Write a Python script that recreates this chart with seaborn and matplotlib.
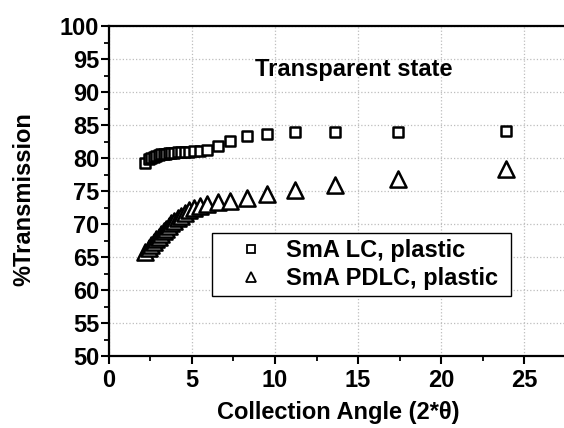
"""
Transmission vs collection angle, transparent state (SmA LC / SmA PDLC on plastic)
"""

import numpy as np
import pandas as pd
import matplotlib
matplotlib.use('Agg')
import matplotlib.pyplot as plt
from matplotlib.ticker import MultipleLocator
from matplotlib.lines import Line2D
import seaborn as sns

# Data
angle = [2.2, 2.4, 2.55, 2.7, 2.85, 3.0, 3.15, 3.3, 3.45, 3.6, 3.75, 3.95,
         4.15, 4.35, 4.6, 4.85, 5.15, 5.5, 5.9, 6.6, 7.3, 8.3, 9.5, 11.2,
         13.6, 17.4, 23.9]
lc_trans = [79.3, 79.8, 80.0, 80.2, 80.35, 80.45, 80.55, 80.6, 80.65, 80.7,
            80.75, 80.8, 80.85, 80.9, 80.95, 81.0, 81.05, 81.1, 81.2, 81.8,
            82.6, 83.3, 83.7, 83.9, 84.0, 84.0, 84.1]
pdlc_trans = [65.8, 66.4, 66.9, 67.3, 67.7, 68.1, 68.5, 68.9, 69.3, 69.7,
              70.1, 70.5, 70.9, 71.3, 71.7, 72.1, 72.4, 72.7, 73.0, 73.3,
              73.5, 73.9, 74.5, 75.1, 76.0, 76.9, 78.3]
series_labels = ['SmA LC, plastic', 'SmA PDLC, plastic']
x_ticks = [0, 5, 10, 15, 20, 25]
y_ticks = [50, 55, 60, 65, 70, 75, 80, 85, 90, 95, 100]

sns.set_style('white')
plt.rcParams['font.family'] = ['Liberation Sans', 'DejaVu Sans']
plt.rcParams['font.weight'] = 'bold'
plt.rcParams['font.size'] = 17
plt.rcParams['text.color'] = 'black'
plt.rcParams['axes.labelcolor'] = 'black'
plt.rcParams['xtick.color'] = 'black'
plt.rcParams['ytick.color'] = 'black'

df = pd.DataFrame({'angle': angle, 'lc': lc_trans, 'pdlc': pdlc_trans})

fig = plt.figure(figsize=(5.64, 4.28), dpi=100)
ax = fig.add_axes([0.193, 0.168, 0.81, 0.771])

sns.scatterplot(data=df, x='angle', y='lc', marker='s', s=62,
                color='white', edgecolor='black', linewidth=1.8, ax=ax,
                zorder=3)
sns.scatterplot(data=df, x='angle', y='pdlc', marker='^', s=135,
                color='white', edgecolor='black', linewidth=1.8, ax=ax,
                zorder=3)

ax.set_xlim(0, 27.5)
ax.set_ylim(50, 100)
ax.set_xticks(x_ticks)
ax.set_yticks(y_ticks)
ax.xaxis.set_minor_locator(MultipleLocator(2.5))
ax.yaxis.set_minor_locator(MultipleLocator(2.5))
ax.tick_params(which='major', direction='out', length=6, width=1.5,
               color='black', labelcolor='black', labelsize=17)
ax.tick_params(which='minor', direction='out', length=3.5, width=1.3,
               color='black')
ax.tick_params(axis='x', which='major', pad=3)
ax.tick_params(axis='y', which='major', pad=1)
ax.tick_params(left=True, bottom=True, which='both')
for lab in ax.get_xticklabels() + ax.get_yticklabels():
    lab.set_fontweight('bold')

ax.grid(True, which='major', linestyle=':', color='#bdbdbd', linewidth=0.9)
ax.set_axisbelow(True)

for side in ['left', 'bottom', 'top', 'right']:
    ax.spines[side].set_visible(True)
    ax.spines[side].set_color('black')
    ax.spines[side].set_linewidth(1.6)

ax.set_xlabel('Collection Angle (2*θ)', fontsize=17, fontweight='bold',
              color='black')
ax.set_ylabel('%Transmission', fontsize=17, fontweight='bold', color='black')
ax.xaxis.set_label_coords(0.502, -0.136)
ax.yaxis.set_label_coords(-0.16, 0.476)

ax.text(0.537, 0.848, 'Transparent state', transform=ax.transAxes,
        ha='center', va='baseline', fontsize=17, fontweight='bold',
        color='black')

handles = [
    Line2D([], [], linestyle='none', marker='s', markersize=5.5,
           markerfacecolor='white', markeredgecolor='black',
           markeredgewidth=1.3),
    Line2D([], [], linestyle='none', marker='^', markersize=7.5,
           markerfacecolor='white', markeredgecolor='black',
           markeredgewidth=1.3),
]
leg = ax.legend(handles, series_labels, loc='upper left',
                bbox_to_anchor=(0.225, 0.372, 0.656, 0), mode='expand',
                borderaxespad=0,
                frameon=True, fancybox=False, shadow=False, framealpha=1,
                edgecolor='black', borderpad=0.25, labelspacing=0.2,
                handlelength=2.86, handletextpad=0.04,
                labelcolor='black',
                prop={'weight': 'bold', 'size': 17})
leg.get_frame().set_linewidth(1.0)

plt.savefig('out.png', dpi=100)
plt.close()
